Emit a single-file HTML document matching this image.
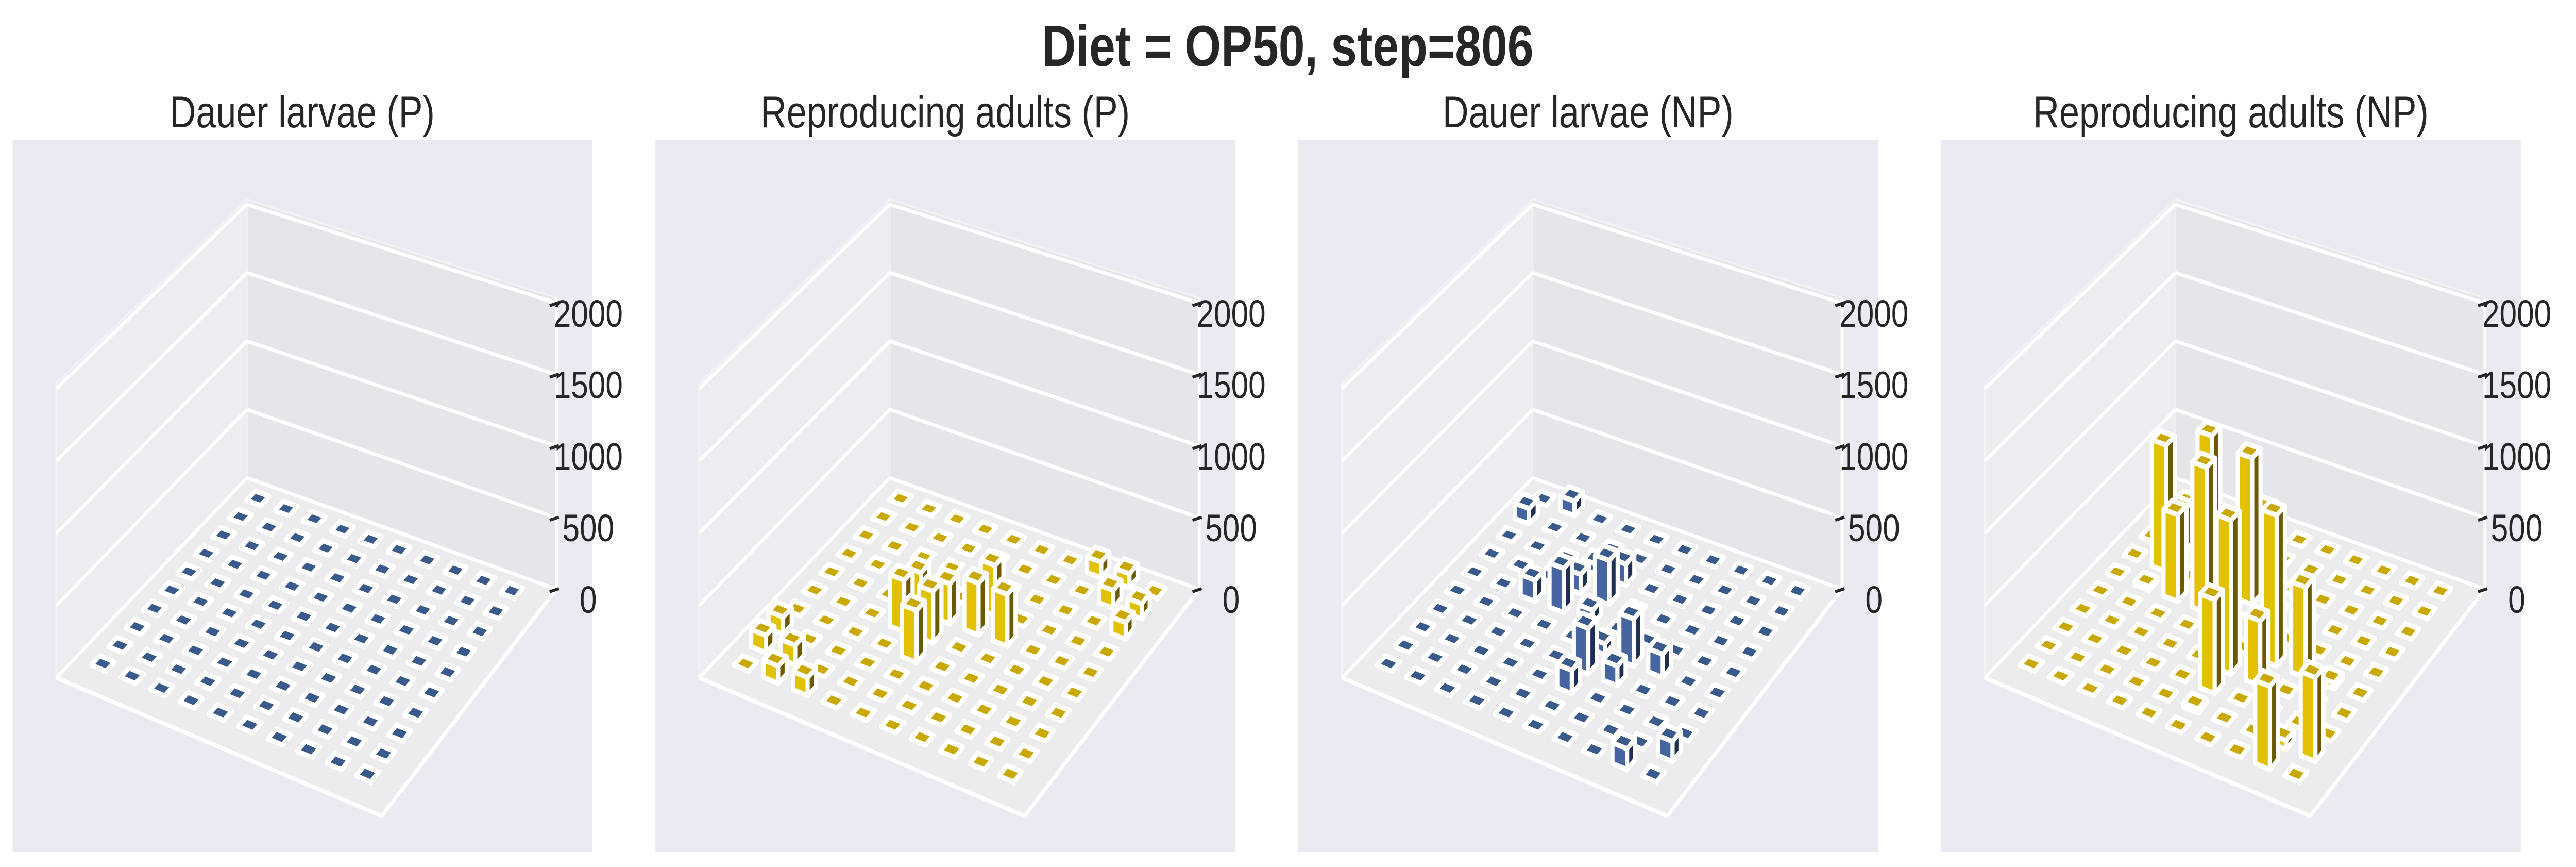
<!DOCTYPE html>
<html><head><meta charset="utf-8">
<style>
html,body{margin:0;padding:0;background:#fff;overflow:hidden;width:100%;height:100%;}
svg{display:block;font-family:"Liberation Sans",Arial,sans-serif;width:100vw;height:100vh;}
</style></head>
<body>
<svg id="fig" viewBox="0 0 6135 1682" preserveAspectRatio="none" xmlns="http://www.w3.org/2000/svg">
<rect width="6135" height="1682" fill="#ffffff"/>
<text x="3067" y="128" text-anchor="middle" font-size="112" font-weight="bold" fill="#262626">Diet = OP50, step=806</text>
<g id="panels"></g>
</svg>
<script>
// ---- chart data ----
const panelTitles = ["Dauer larvae (P)", "Reproducing adults (P)", "Dauer larvae (NP)", "Reproducing adults (NP)"];
const panelColors = ["blue", "yellow", "blue", "yellow"];
const zTicks = [0, 500, 1000, 1500, 2000];
const zTickLabels = ["0", "500", "1000", "1500", "2000"];
// sparse nonzero entries per panel: [x, y, value]
const valuesDauerP = [];
const valuesAdultsP = [[1,2,120],[1,3,120],[2,1,120],[2,2,135],[3,1,125],[4,5,360],[5,5,360],[5,4,360],[4,6,280],[5,6,280],[6,6,360],[6,7,350],[7,6,360],[8,10,110],[9,10,100],[9,9,125],[10,9,105],[10,8,115]];
const valuesDauerNP = [[1,9,110],[2,10,105],[3,6,150],[4,6,310],[4,7,135],[4,8,70],[5,7,310],[5,8,150],[5,6,95],[6,4,315],[7,5,325],[6,5,75],[6,3,160],[7,4,135],[8,5,160],[9,1,140],[10,2,135]];
const valuesAdultsNP = [[9,1,560],[10,2,565],[6,3,645],[7,4,445],[8,5,620],[6,4,1060],[7,5,1040],[3,6,610],[4,6,1020],[5,7,1030],[2,7,900],[3,8,910],[5,8,520],[2,8,300],[6,2,30],[9,2,60],[2,6,25],[9,5,40]];
const panelValues = [valuesDauerP, valuesAdultsP, valuesDauerNP, valuesAdultsNP];

// ---- geometry ----
const NS = "http://www.w3.org/2000/svg";
const PANEL_STEP = 1531, ZMAX = 2036, EXT = 11, BW = 0.25, A_OFF = -0.2, B_OFF = 0.33;
const cL=[134,1315], cF=[909,1583], cB=[588,927], cR=[1325,1143];
const sL=571/ZMAX, sF=595/ZMAX, sB=540/ZMAX, sR=565/ZMAX;
const palette = {
  yellow:{top:"#c9a900", front:"#e2c100", side:"#6b5a00"},
  blue:{top:"#3a5a8c", front:"#4766a1", side:"#1f2f50"}
};
function proj(a,b,z,off){
  const u=a/EXT, v=b/EXT;
  const w1=(1-u)*(1-v), w2=u*(1-v), w3=(1-u)*v, w4=u*v;
  const x=w1*cL[0]+w2*cF[0]+w3*cB[0]+w4*cR[0];
  const y=w1*cL[1]+w2*cF[1]+w3*cB[1]+w4*cR[1];
  const s=w1*sL+w2*sF+w3*sB+w4*sR;
  return [x+off, y-z*s];
}
function pts(arr){return arr.map(p=>p[0].toFixed(1)+","+p[1].toFixed(1)).join(" ");}
function poly(parent, points, fill, stroke, sw){
  const p=document.createElementNS(NS,"polygon");
  p.setAttribute("points",pts(points));
  p.setAttribute("fill",fill);
  if(stroke){p.setAttribute("stroke",stroke);p.setAttribute("stroke-width",sw);p.setAttribute("stroke-linejoin","round");}
  parent.appendChild(p);
  return p;
}
function line(parent,p1,p2,color,w){
  const l=document.createElementNS(NS,"line");
  l.setAttribute("x1",p1[0]);l.setAttribute("y1",p1[1]);l.setAttribute("x2",p2[0]);l.setAttribute("y2",p2[1]);
  l.setAttribute("stroke",color);l.setAttribute("stroke-width",w);
  parent.appendChild(l);
  return l;
}
const root=document.getElementById("panels");
for(let i=0;i<4;i++){
  const off=PANEL_STEP*i;
  const g=document.createElementNS(NS,"g");
  
  
  root.appendChild(g);
  const bg=document.createElementNS(NS,"rect");
  bg.setAttribute("x",30+off);bg.setAttribute("y",271);bg.setAttribute("width",1381);bg.setAttribute("height",1381);bg.setAttribute("fill","#eaeaf2");
  
  
  g.appendChild(bg);
  const t=document.createElementNS(NS,"text");
  t.setAttribute("x",720+off);t.setAttribute("y",247);t.setAttribute("text-anchor","middle");t.setAttribute("font-size","86");t.setAttribute("fill","#262626");
  t.textContent=panelTitles[i];
  
  
  g.appendChild(t);
  const P=(a,b,z)=>proj(a,b,z,off);
  const lw=poly(g,[P(0,0,0),P(0,EXT,0),P(0,EXT,ZMAX),P(0,0,ZMAX)],"#ececf1");
  
  
  const bw=poly(g,[P(0,EXT,0),P(EXT,EXT,0),P(EXT,EXT,ZMAX),P(0,EXT,ZMAX)],"#e5e5ea");
  
  
  const fl=poly(g,[P(0,0,0),P(EXT,0,0),P(EXT,EXT,0),P(0,EXT,0)],"#ececef");
  
  
  line(g,P(0,0,0),P(0,0,ZMAX),"#f3f3f6",4);
  line(g,P(0,EXT,0),P(0,EXT,ZMAX),"#f0f0f3",4);
  zTicks.forEach(z=>{
    const gl=line(g,P(0,0,z),P(0,EXT,z),"#ffffff",7);
    
    
    const gl2=line(g,P(0,EXT,z),P(EXT,EXT,z),"#ffffff",7);
    
    
  });
  line(g,P(0,EXT,ZMAX),P(EXT,EXT,ZMAX),"#f2f2f5",4);
  line(g,P(0,0,ZMAX),P(0,EXT,ZMAX),"#f2f2f5",4);
  line(g,P(0,0,0),P(EXT,0,0),"#ffffff",8);
  line(g,P(EXT,0,0),P(EXT,EXT,0),"#ffffff",8);
  const za=line(g,P(EXT,EXT,0),P(EXT,EXT,ZMAX),"#ffffff",7);
  
  
  zTicks.forEach((z,k)=>{
    const p=P(EXT,EXT,z);
    const tk=line(g,[p[0]-16,p[1]+5],[p[0]+6,p[1]-1],"#262626",6);
    
    
    const lb=document.createElementNS(NS,"text");
    lb.setAttribute("x",(p[0]+76).toFixed(1));lb.setAttribute("y",(p[1]+46).toFixed(1));
    lb.setAttribute("text-anchor","middle");lb.setAttribute("font-size","74");lb.setAttribute("fill","#262626");
    lb.textContent=zTickLabels[k];
    
    
    g.appendChild(lb);
  });
  const vals=panelValues[i];
  const grid={};
  vals.forEach(v=>{grid[v[0]+"_"+v[1]]=v[2];});
  const bars=[];
  for(let a=1;a<=10;a++)for(let b=1;b<=10;b++){
    const h=grid[a+"_"+b]||0;
    bars.push({a:a+A_OFF,b:b+B_OFF,ia:a,ib:b,h,depth:P(a+A_OFF,b+B_OFF,0)[1]});
  }
  bars.sort((p,q)=>p.depth-q.depth);
  const col=palette[panelColors[i]];
  bars.forEach(bar=>{
    const bg2=document.createElementNS(NS,"g");
    
    
    g.appendChild(bg2);
    const a0=bar.a-BW,a1=bar.a+BW,b0=bar.b-BW,b1=bar.b+BW,h=bar.h;
    if(h>0){
      poly(bg2,[P(a0,b0,0),P(a1,b0,0),P(a1,b0,h),P(a0,b0,h)],col.front,"#ffffff",10);
      poly(bg2,[P(a1,b0,0),P(a1,b1,0),P(a1,b1,h),P(a1,b0,h)],col.side,"#ffffff",10);
    }
    poly(bg2,[P(a0,b0,h),P(a1,b0,h),P(a1,b1,h),P(a0,b1,h)],col.top,"#ffffff",10);
  });
}
</script>
</body></html>
